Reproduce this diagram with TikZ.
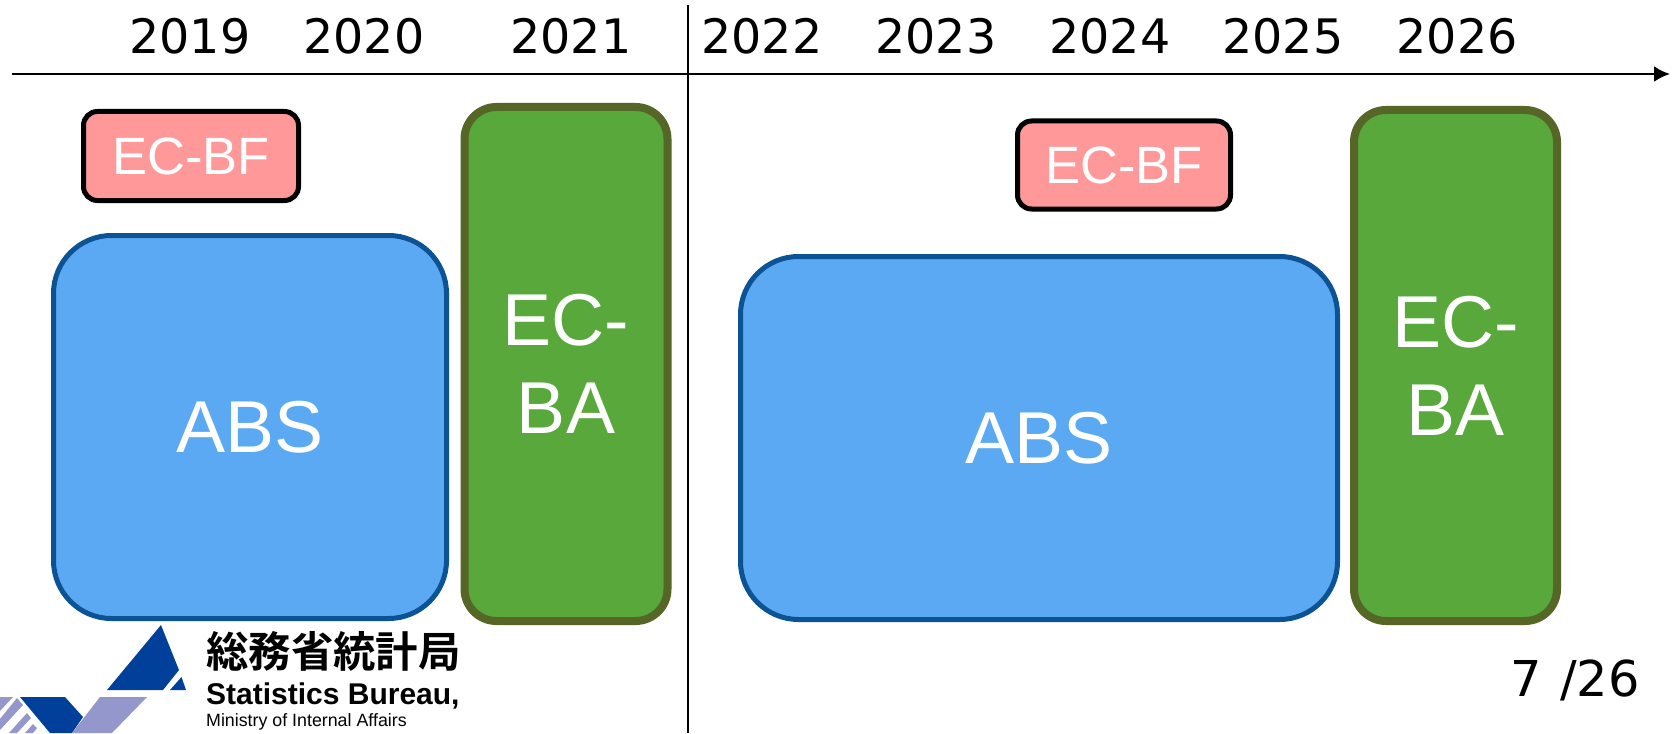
\documentclass[tikz,border=0pt]{standalone}
\usetikzlibrary{arrows.meta}
\usepackage{fontspec}
\setmainfont{Liberation Sans}
\newfontfamily\yearfont{DejaVu Sans}
\newfontfamily\cjkfont{Noto Sans CJK JP}[BoldFont={Noto Sans CJK JP Bold}]
\definecolor{bluefill}{HTML}{5AA9F2}
\definecolor{blueline}{HTML}{0B5394}
\definecolor{greenfill}{HTML}{58A83C}
\definecolor{greenline}{HTML}{566627}
\definecolor{pinkfill}{HTML}{FF9999}
\definecolor{logodark}{HTML}{00409A}
\definecolor{logolight}{HTML}{9397CB}
\newcommand{\dropby}[1]{\raisebox{-2pt}{#1}}
\tikzset{
  boxbase/.style={draw,text=white,align=center,inner sep=0pt,font=\fontsize{73.5}{88}\selectfont},
  absbox/.style={boxbase,fill=bluefill,draw=blueline,line width=5pt,rounded corners=58pt},
  babox/.style={boxbase,fill=greenfill,draw=greenline,line width=8pt,rounded corners=32pt},
  bfbox/.style={boxbase,fill=pinkfill,draw=black,line width=5pt,rounded corners=14pt,font=\fontsize{52.5}{60}\selectfont},
  yearlabel/.style={font=\yearfont\fontsize{47.5}{50}\selectfont,inner sep=0pt,anchor=base},
}
\begin{document}
\begin{tikzpicture}[x=1pt,y=-1pt]
\useasboundingbox (0,0) rectangle (1677,733);
\fill[white] (0,0) rectangle (1677,733);
\coordinate (axL) at (12,74);
\coordinate (axR) at (1670,74);
\coordinate (vT) at (688,5);
\coordinate (vB) at (688,733);
\draw[line width=2.6pt,-{Latex[length=16pt,width=16pt]}] (axL) -- (axR);
\draw[line width=2pt] (vT) -- (vB);
\node[yearlabel] (y19) at (190,54) {2019};
\node[yearlabel] (y20) at (364,54) {2020};
\node[yearlabel] (y21) at (571,54) {2021};
\node[yearlabel] (y22) at (762,54) {2022};
\node[yearlabel] (y23) at (936,54) {2023};
\node[yearlabel] (y24) at (1110,54) {2024};
\node[yearlabel] (y25) at (1283,54) {2025};
\node[yearlabel] (y26) at (1457,54) {2026};
\node[bfbox,minimum width=215pt,minimum height=89pt] (bf1) at (191,156) {\dropby{EC-BF}};
\node[bfbox,minimum width=213pt,minimum height=88pt] (bf2) at (1124,165) {\dropby{EC-BF}};
\node[absbox,minimum width=393pt,minimum height=383pt] (abs1) at (250,427) {\dropby{ABS}};
\node[absbox,minimum width=597pt,minimum height=363pt] (abs2) at (1039,438) {\dropby{ABS}};
\node[babox,minimum width=203pt,minimum height=514pt] (ba1) at (566,364) {\dropby{EC-}\\[0pt]\dropby{BA}};
\node[babox,minimum width=203pt,minimum height=511pt] (ba2) at (1455.5,365.5) {\dropby{EC-}\\[0pt]\dropby{BA}};
% logo
\fill[logodark] (161,625) -- (179,670) -- (163,690) -- (107,690) -- cycle;
\fill[logodark] (170,690) -- (181.5,677) -- (186,690) -- cycle;
\fill[logodark] (20,697) -- (65,697) -- (83,717) -- (72,733) -- (50,733) -- cycle;
\fill[logolight] (100,697) -- (147,697) -- (112,733) -- (72,733) -- cycle;
\fill[logolight] (0,697) -- (13,697) -- (0,711) -- cycle;
\fill[logolight] (0,719) -- (17,698) -- (23,705) -- (0,730) -- cycle;
\fill[logolight] (9,733) -- (27,713) -- (31,718) -- (17,733) -- cycle;
\fill[logolight] (25,733) -- (33,724) -- (37,728) -- (33,733) -- cycle;
\node[inner sep=0pt,anchor=west,font=\cjkfont\bfseries\fontsize{42.4}{46}\selectfont] (lg1) at (206,651) {総務省統計局};
\node[inner sep=0pt,anchor=west,font=\bfseries\fontsize{30}{32}\selectfont] (lg2) at (206,696) {Statistics Bureau,};
\node[inner sep=0pt,anchor=west,font=\fontsize{17.8}{19}\selectfont] (lg3) at (206,722) {Ministry of Internal Affairs};
\node[font=\yearfont\fontsize{49.4}{52}\selectfont,inner sep=0pt,anchor=base east] (pg) at (1640,696) {7 \kern3pt/26};
\end{tikzpicture}
\end{document}
